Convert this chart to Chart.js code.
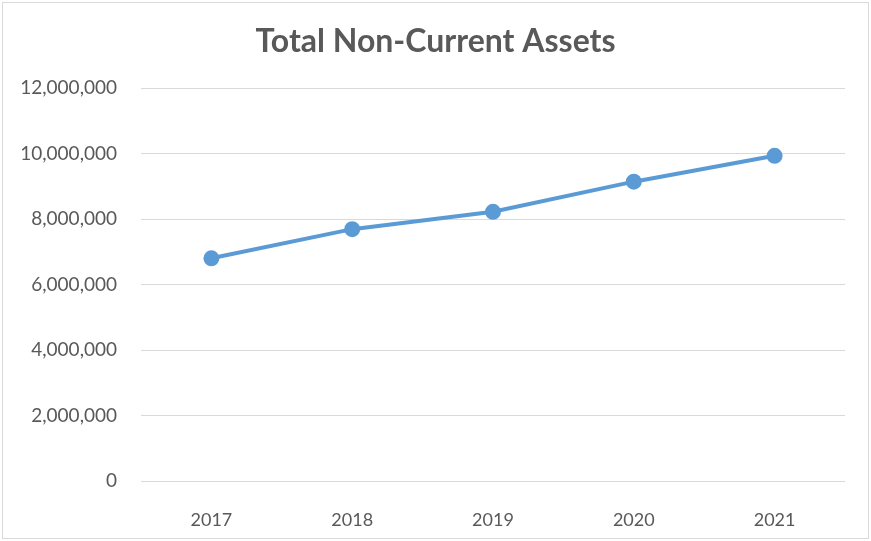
<!DOCTYPE html>
<html>
<head>
<meta charset="utf-8">
<script src="https://cdn.jsdelivr.net/npm/chart.js@4.4.0/dist/chart.umd.min.js"></script>
<style>
  html, body { margin: 0; padding: 0; background: #fff; }
  #wrap { position: relative; width: 871px; height: 541px; }
  #frame {
    position: absolute; left: 2px; top: 2px; right: 2px; bottom: 2px;
    border: 1px solid #d9d9d9; pointer-events: none;
  }
</style>
</head>
<body>
<div id="wrap">
  <canvas id="myChart" width="871" height="541"></canvas>
  <div id="frame"></div>
</div>
<script>
// datos
const years = ["2017", "2018", "2019", "2020", "2021"];
const nonCurrentAssets = [6800000, 7690000, 8220000, 9140000, 9930000];
const yTicks = [0, 2000000, 4000000, 6000000, 8000000, 10000000, 12000000];

const textColor = "#595959";
const fontFamily = "Lato, 'Open Sans', sans-serif";

const ctx = document.getElementById("myChart").getContext("2d");
const myChart = new Chart(ctx, {
    type: "line",
    data: {
        labels: years,
        datasets: [{
            label: "Total Non-Current Assets",
            data: nonCurrentAssets,
            borderColor: "#5b9bd5",
            backgroundColor: "#5b9bd5",
            borderWidth: 4,
            pointRadius: 6,
            pointHoverRadius: 6,
            tension: 0
        }]
    },
    options: {
        responsive: false,
        animation: false,
        layout: { padding: 0 },
        plugins: {
            legend: { display: false },
            tooltip: { enabled: false },
            title: {
                display: true,
                text: "Total Non-Current Assets",
                color: textColor,
                font: { family: fontFamily, size: 32, weight: "bold", lineHeight: 1.2 },
                padding: { top: 22, bottom: 27.6 }
            }
        },
        scales: {
            x: {
                offset: true,
                grid: { display: false },
                border: { display: false },
                ticks: {
                    color: textColor,
                    font: { family: fontFamily, size: 18 },
                    padding: 20
                },
                afterFit: function (scale) { scale.height = 60; }
            },
            y: {
                min: 0,
                max: 12000000,
                afterBuildTicks: function (scale) {
                    scale.ticks = yTicks.map(v => ({ value: v }));
                },
                grid: { color: "#d9d9d9", lineWidth: 1, drawTicks: false },
                border: { display: false },
                ticks: {
                    color: textColor,
                    font: { family: fontFamily, size: 19 },
                    padding: 24,
                    callback: function (value) { return value.toLocaleString("en-US"); }
                },
                afterFit: function (scale) { scale.width = 141; }
            },
            // eje vacío a la derecha, solo para reservar margen sin mover el título
            yRight: {
                position: "right",
                grid: { display: false },
                border: { display: false },
                ticks: { display: false },
                afterFit: function (scale) { scale.width = 26; }
            }
        }
    }
});
</script>
</body>
</html>
